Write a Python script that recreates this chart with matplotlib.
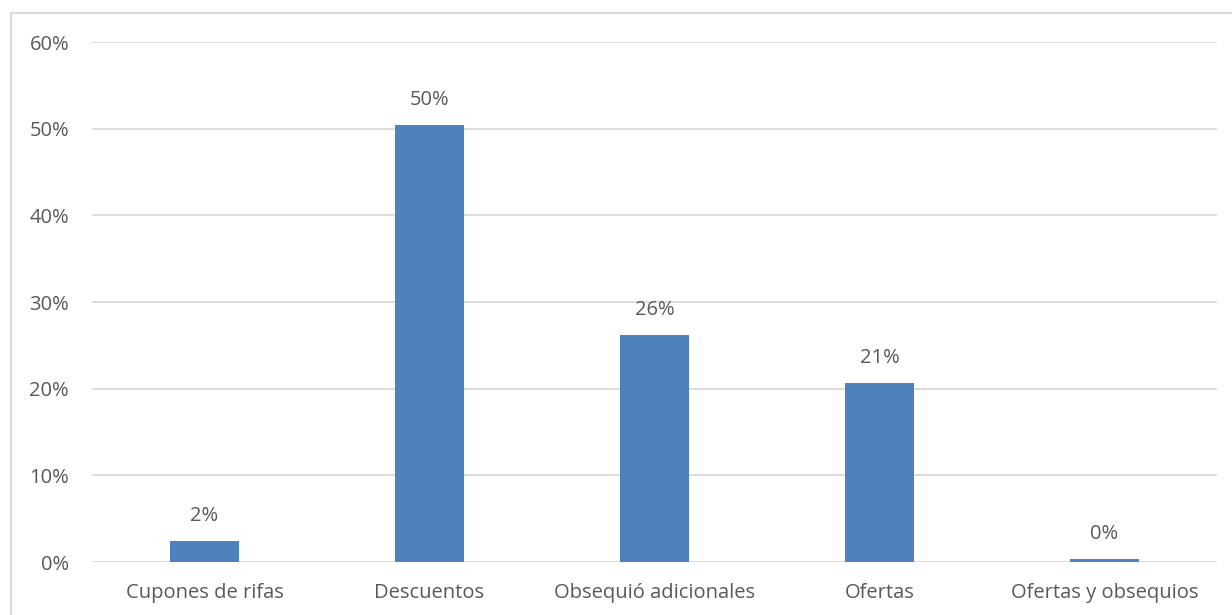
import matplotlib.pyplot as plt
from matplotlib.patches import Rectangle
from matplotlib.ticker import PercentFormatter

categories = ['Cupones de rifas', 'Descuentos', 'Obsequió adicionales', 'Ofertas', 'Ofertas y obsequios']
shares = [0.024, 0.504, 0.262, 0.206, 0.003]

bar_color = '#4f81bd'
text_color = '#595959'
grid_color = '#d9d9d9'

plt.rcParams['font.family'] = ['Open Sans', 'DejaVu Sans']

fig = plt.figure(figsize=(12.32, 6.15), dpi=100)
ax = fig.add_axes([92/1232., 1 - 562/615., (1217 - 92)/1232., (562 - 42)/615.])

# outer chart frame, right and bottom edges fall outside the canvas
fig.patches.append(Rectangle((11/1232., -0.1), 1.2, 1 - 13/615. + 0.1,
                             transform=fig.transFigure, fill=False,
                             edgecolor=grid_color, linewidth=1.5))

x = range(len(categories))
bars = ax.bar(x, shares, width=0.31, color=bar_color, zorder=3)
for b, v in zip(bars, shares):
    ax.annotate('{:.0%}'.format(v), (b.get_x() + b.get_width()/2., v),
                xytext=(0, 11), textcoords='offset points',
                ha='center', va='bottom', fontsize=14.5, color=text_color)

ax.set_xlim(-0.5, len(categories) - 0.5)
ax.set_ylim(0, 0.6)
ax.set_yticks([0, 0.1, 0.2, 0.3, 0.4, 0.5, 0.6])
ax.yaxis.set_major_formatter(PercentFormatter(1.0, decimals=0))
ax.set_xticks(list(x))
ax.set_xticklabels(categories)

ax.grid(axis='y', color=grid_color, linewidth=1.3, zorder=0)
for s in ax.spines.values():
    s.set_visible(False)
ax.tick_params(axis='both', length=0, labelsize=14.5, colors=text_color)
ax.tick_params(axis='y', pad=16.5)
ax.tick_params(axis='x', pad=15)

fig.savefig('out.png', dpi=100)
